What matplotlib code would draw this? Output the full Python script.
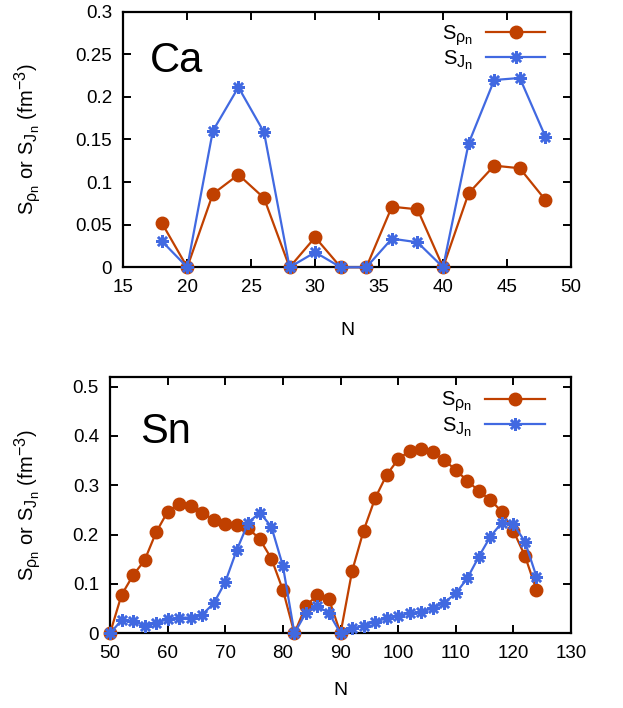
import matplotlib
matplotlib.use("Agg")
import matplotlib.pyplot as plt
import matplotlib._mathtext as _mt
from matplotlib.ticker import FuncFormatter, MultipleLocator

# gnuplot-like sub/superscript scaling
_mt.SHRINK_FACTOR = 0.8

plt.rcParams['font.family'] = ['Liberation Sans', 'DejaVu Sans']
plt.rcParams['mathtext.fontset'] = 'custom'
plt.rcParams['mathtext.rm'] = 'Liberation Sans'
plt.rcParams['mathtext.it'] = 'Liberation Sans:italic'
plt.rcParams['mathtext.bf'] = 'Liberation Sans:bold'

# ---- data ----
ca_N = [18, 20, 22, 24, 26, 28, 30, 32, 34, 36, 38, 40, 42, 44, 46, 48]
ca_rho = [0.0523, 0.0, 0.086, 0.1087, 0.0813, 0.0, 0.0352, 0.0, 0.0, 0.0711,
          0.068, 0.0, 0.0869, 0.1193, 0.1162, 0.079]
ca_J = [0.0309, 0.0, 0.160, 0.2113, 0.1585, 0.0, 0.0176, 0.0, 0.0, 0.0336,
        0.0293, 0.0, 0.1455, 0.2198, 0.2222, 0.1533]

sn_N = list(range(50, 125, 2))
sn_rho = [0.0, 0.0777, 0.1176, 0.148, 0.2047, 0.2466, 0.2628, 0.2588, 0.244,
          0.2304, 0.221, 0.219, 0.213, 0.1905, 0.1514, 0.0878, 0.0, 0.056,
          0.0776, 0.069, 0.0, 0.1257, 0.208, 0.2736, 0.321, 0.3527, 0.370,
          0.374, 0.3676, 0.351, 0.331, 0.309, 0.2885, 0.270, 0.2466, 0.2074,
          0.157, 0.0878]
sn_J = [0.0, 0.0264, 0.025, 0.0155, 0.0216, 0.0284, 0.0318, 0.0318, 0.0378,
        0.0608, 0.104, 0.169, 0.2243, 0.2446, 0.216, 0.1365, 0.0, 0.0418,
        0.0553, 0.0405, 0.0, 0.010, 0.0148, 0.0236, 0.0304, 0.0351, 0.0405,
        0.0439, 0.0507, 0.0622, 0.081, 0.1115, 0.1554, 0.196, 0.2243, 0.221,
        0.1858, 0.1149]

lab_rho = r'$\mathregular{S_{\rho_n}}$'
lab_J = r'$\mathregular{S_{J_n}}$'
ylabel = r'$\mathregular{S_{\rho_n}}$ or $\mathregular{S_{J_n}}$ (fm$\mathregular{^{-3}}$)'

c_rho = '#c04000'
c_J = '#4169e1'
ast = (8, 2, 0)

fig = plt.figure(figsize=(6.23, 7.08), dpi=100)
ax1 = fig.add_axes([0.1979, 0.6225, 0.7186, 0.361])
ax2 = fig.add_axes([0.1766, 0.1055, 0.7400, 0.3624])

fmt = FuncFormatter(lambda v, p: '%g' % round(v, 4))


def style(ax):
    for s in ax.spines.values():
        s.set_linewidth(1.6)
    ax.tick_params(direction='in', length=6, width=1.4, top=True, right=True,
                   labelsize=13.5)
    ax.tick_params(axis='x', pad=8.5)
    ax.tick_params(axis='y', pad=8)
    ax.yaxis.set_major_formatter(fmt)
    ax.xaxis.set_major_formatter(fmt)


def draw(ax, N, rho, J):
    ax.plot(N, rho, color=c_rho, lw=1.6, marker='o', ms=9, mec=c_rho,
            label=lab_rho, clip_on=False, zorder=3)
    ax.plot(N, J, color=c_J, lw=1.6, marker=ast, ms=9, mew=1.8, mec=c_J,
            label=lab_J, clip_on=False, zorder=4)


def legend(ax, y):
    ax.legend(loc='upper right', bbox_to_anchor=(0.943, y), frameon=False,
              markerfirst=False, fontsize=14.5, handlelength=2.95,
              handletextpad=0.63, borderpad=0, labelspacing=0.05,
              borderaxespad=0)


draw(ax1, ca_N, ca_rho, ca_J)
ax1.set_xlim(15, 50)
ax1.set_ylim(0, 0.3)
ax1.xaxis.set_major_locator(MultipleLocator(5))
ax1.yaxis.set_major_locator(MultipleLocator(0.05))
style(ax1)
ax1.set_xlabel('N', fontsize=14)
ax1.xaxis.set_label_coords(0.5, -0.215)
ax1.set_ylabel(ylabel, fontsize=14.5)
ax1.yaxis.set_label_coords(-0.18, 0.5)
ax1.text(0.0596, 0.765, 'Ca', transform=ax1.transAxes, fontsize=30,
         va='baseline', ha='left')
legend(ax1, 0.954)

draw(ax2, sn_N, sn_rho, sn_J)
ax2.set_xlim(50, 130)
ax2.set_ylim(0, 0.52)
ax2.xaxis.set_major_locator(MultipleLocator(10))
ax2.yaxis.set_major_locator(MultipleLocator(0.1))
style(ax2)
ax2.set_xlabel('N', fontsize=14)
ax2.xaxis.set_label_coords(0.5, -0.19)
ax2.set_ylabel(ylabel, fontsize=14.5)
ax2.yaxis.set_label_coords(-0.146, 0.5)
ax2.text(0.065, 0.7416, 'Sn', transform=ax2.transAxes, fontsize=30,
         va='baseline', ha='left')
legend(ax2, 0.947)

fig.savefig('out.png', dpi=100)
